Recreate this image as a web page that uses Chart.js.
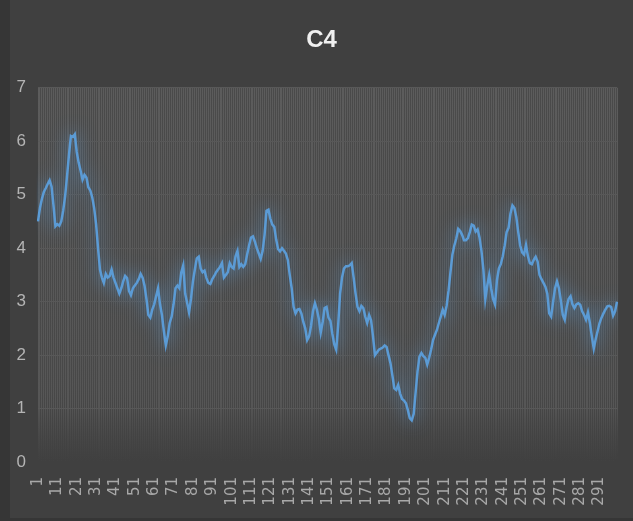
<!DOCTYPE html>
<html lang="en">

<head>
    <meta charset="UTF-8">
    <title>C4</title>
    <script src="https://cdn.jsdelivr.net/npm/chart.js"></script>
    <style>
        body { margin: 0; background: #363636; width: 633px; height: 521px; overflow: hidden; }
        #box { position: absolute; left: 10px; top: 0; width: 623px; height: 518px; background: #404040; }
    </style>
</head>

<body>
    <div id="box"><canvas id="c4Chart"></canvas></div>

    <script>
        // values, one per category
        const c4Values = [
            4.50, 4.75, 4.92, 5.05, 5.12, 5.20, 5.27, 5.15, 4.80, 4.41,
            4.45, 4.42, 4.50, 4.70, 4.97, 5.35, 5.75, 6.10, 6.08, 6.13,
            5.80, 5.60, 5.45, 5.28, 5.37, 5.32, 5.14, 5.08, 4.95, 4.75,
            4.45, 4.00, 3.60, 3.45, 3.35, 3.52, 3.45, 3.48, 3.60, 3.45,
            3.35, 3.25, 3.15, 3.25, 3.38, 3.48, 3.44, 3.20, 3.12, 3.25,
            3.30, 3.35, 3.42, 3.52, 3.45, 3.30, 3.05, 2.75, 2.70, 2.85,
            2.95, 3.10, 3.25, 2.95, 2.75, 2.45, 2.18, 2.35, 2.60, 2.72,
            2.95, 3.25, 3.30, 3.25, 3.55, 3.68, 3.15, 2.98, 2.80, 3.05,
            3.38, 3.60, 3.81, 3.84, 3.62, 3.55, 3.58, 3.44, 3.35, 3.33,
            3.42, 3.48, 3.55, 3.60, 3.65, 3.72, 3.45, 3.50, 3.55, 3.72,
            3.65, 3.62, 3.85, 3.95, 3.65, 3.70, 3.65, 3.70, 3.88, 4.05,
            4.20, 4.22, 4.12, 4.00, 3.90, 3.80, 3.95, 4.25, 4.70, 4.72,
            4.55, 4.44, 4.40, 4.16, 3.98, 3.94, 4.00, 3.95, 3.90, 3.78,
            3.50, 3.25, 2.90, 2.78, 2.85, 2.86, 2.78, 2.62, 2.50, 2.28,
            2.35, 2.55, 2.82, 2.97, 2.85, 2.68, 2.42, 2.62, 2.88, 2.90,
            2.70, 2.64, 2.40, 2.20, 2.10, 2.55, 3.15, 3.45, 3.62, 3.66,
            3.66, 3.68, 3.72, 3.45, 3.15, 2.90, 2.82, 2.92, 2.88, 2.72,
            2.60, 2.75, 2.65, 2.35, 2.00, 2.05, 2.10, 2.12, 2.14, 2.18,
            2.15, 2.00, 1.85, 1.62, 1.38, 1.35, 1.44, 1.28, 1.18, 1.15,
            1.10, 0.97, 0.82, 0.78, 0.90, 1.30, 1.70, 1.97, 2.04, 1.98,
            1.95, 1.82, 1.95, 2.10, 2.28, 2.38, 2.47, 2.60, 2.72, 2.85,
            2.75, 2.92, 3.20, 3.55, 3.88, 4.05, 4.18, 4.36, 4.32, 4.25,
            4.15, 4.15, 4.19, 4.30, 4.44, 4.42, 4.31, 4.35, 4.20, 3.95,
            3.60, 3.05, 3.30, 3.50, 3.25, 3.05, 2.95, 3.40, 3.62, 3.70,
            3.85, 4.05, 4.30, 4.38, 4.65, 4.80, 4.75, 4.58, 4.30, 4.05,
            3.92, 3.88, 4.06, 3.85, 3.72, 3.70, 3.78, 3.84, 3.75, 3.50,
            3.42, 3.35, 3.28, 3.15, 2.78, 2.72, 3.00, 3.25, 3.38, 3.25,
            3.02, 2.75, 2.66, 2.90, 3.05, 3.10, 2.95, 2.88, 2.95, 2.97,
            2.94, 2.82, 2.75, 2.66, 2.80, 2.60, 2.35, 2.12, 2.30, 2.45,
            2.60, 2.70, 2.78, 2.85, 2.91, 2.92, 2.90, 2.74, 2.82, 3.00
        ];
        // categories are just the row numbers
        const categories = c4Values.map((v, i) => String(i + 1));
        // labels that are printed under the axis
        const xTickLabels = ['1', '11', '21', '31', '41', '51', '61', '71', '81', '91',
            '101', '111', '121', '131', '141', '151', '161', '171', '181', '191',
            '201', '211', '221', '231', '241', '251', '261', '271', '281', '291'];
        const yTicks = [0, 1, 2, 3, 4, 5, 6, 7];

        // soft blue glow around the line, like the office chart
        const glow = {
            id: 'glow',
            beforeDatasetDraw(chart) {
                const ctx = chart.ctx;
                ctx.save();
                ctx.shadowColor = 'rgba(91,155,213,0.9)';
                ctx.shadowBlur = 18;
            },
            afterDatasetDraw(chart) {
                chart.ctx.restore();
            }
        };

        // plot area is a little lighter and fades out at the bottom
        const plotBg = {
            id: 'plotBg',
            beforeDraw(chart) {
                const { ctx, chartArea: a } = chart;
                const g = ctx.createLinearGradient(0, a.top, 0, a.bottom);
                g.addColorStop(0, '#4a4a4a');
                g.addColorStop(0.8, '#484848');
                g.addColorStop(1, '#404040');
                ctx.save();
                ctx.fillStyle = g;
                ctx.fillRect(a.left, a.top, a.right - a.left, a.bottom - a.top);
                ctx.restore();
            }
        };

        function fadeColor(context) {
            const chart = context.chart;
            const a = chart.chartArea;
            if (!a) return '#5a5a5a';
            const g = chart.ctx.createLinearGradient(0, a.top, 0, a.bottom);
            g.addColorStop(0, '#5c5c5c');
            g.addColorStop(0.85, '#565656');
            g.addColorStop(1, 'rgba(72,72,72,0)');
            return g;
        }

        const ctx = document.getElementById('c4Chart').getContext('2d');
        new Chart(ctx, {
            type: 'line',
            data: {
                labels: categories,
                datasets: [{
                    label: 'C4',
                    data: c4Values,
                    borderColor: '#5b9bd5',
                    borderWidth: 2.5,
                    pointRadius: 0,
                    tension: 0,
                    fill: false
                }]
            },
            options: {
                responsive: true,
                maintainAspectRatio: false,
                animation: false,
                layout: { padding: 0 },
                plugins: {
                    legend: { display: false },
                    tooltip: { enabled: false },
                    title: {
                        display: true,
                        text: 'C4',
                        color: '#f0f0f0',
                        font: { family: "'Liberation Sans Narrow', 'Liberation Sans', sans-serif", size: 24, weight: 'bold' },
                        padding: { top: 26, bottom: 33 }
                    }
                },
                scales: {
                    x: {
                        border: { display: false },
                        grid: { color: fadeColor, lineWidth: 1, drawTicks: false },
                        afterFit(scale) {
                            // fixed room under the plot and a small gap on the right
                            scale.height = 56;
                            scale.paddingLeft = 0;
                            scale.paddingRight = 16;
                        },
                        ticks: {
                            autoSkip: false,
                            minRotation: 90,
                            maxRotation: 90,
                            padding: 15,
                            color: '#a8a8a8',
                            font: { family: "'DejaVu Sans', sans-serif", size: 15 },
                            // empty string keeps the grid line of the category
                            callback: function (val, idx) {
                                const lab = categories[idx];
                                return xTickLabels.includes(lab) ? lab : '';
                            }
                        }
                    },
                    y: {
                        min: yTicks[0],
                        max: yTicks[yTicks.length - 1],
                        border: { display: false },
                        afterFit(scale) { scale.width = 28; },
                        grid: {
                            drawTicks: false,
                            color: c => c.tick && c.tick.value === 0 ? 'rgba(0,0,0,0)' : '#585858'
                        },
                        ticks: {
                            stepSize: 1,
                            padding: 12,
                            color: '#b4b4b4',
                            font: { family: "'Liberation Sans Narrow', 'Liberation Sans', sans-serif", size: 17 }
                        }
                    }
                }
            },
            plugins: [plotBg, glow]
        });
    </script>
</body>

</html>
